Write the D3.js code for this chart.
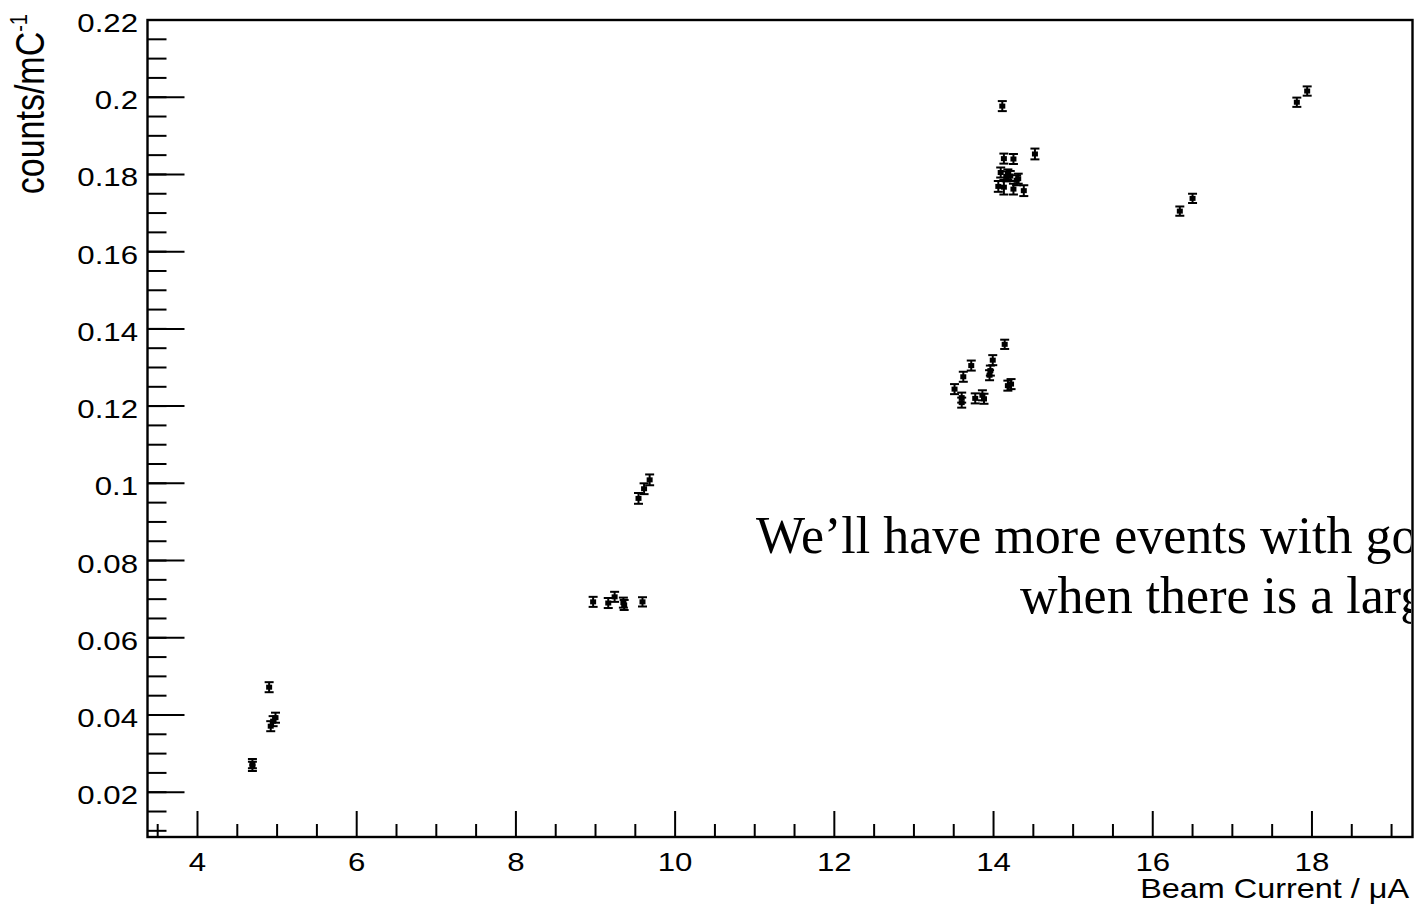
<!DOCTYPE html>
<html lang="en">
<head>
  <meta charset="UTF-8">
  <title>Counts per mC vs Beam Current</title>
  <script src="https://d3js.org/d3.v7.min.js"></script>
  <style type="text/css">
    body {
      margin: 0;
      background: #fff;
    }
    svg {
      display: block;
    }
    .lab {
      font-family: 'Liberation Sans', Arial, Helvetica, sans-serif;
      fill: #000;
    }
    .note {
      font-family: 'Liberation Serif', 'Times New Roman', serif;
      font-size: 52px;
      fill: #000;
    }
  </style>
</head>
<body>
<div id="chart"></div>
<script>
  // beam current (uA), rate (counts/mC) and its error
  var xVals = [4.69, 4.69, 4.90, 4.92, 4.95, 4.98,
    8.97, 9.16, 9.24, 9.35, 9.36, 9.59, 9.54, 9.61, 9.68,
    13.51, 13.60, 13.60, 13.62, 13.72, 13.77, 13.86, 13.88, 13.95, 13.96, 13.99, 14.14, 14.18, 14.22,
    14.11, 14.13, 14.25, 14.52, 14.09, 14.16, 14.21, 14.31, 14.06, 14.13, 14.25, 14.38, 14.18, 14.29,
    16.34, 16.50, 17.81, 17.94];
  var yVals = [0.0274, 0.0267, 0.0472, 0.0371, 0.0384, 0.0393,
    0.0693, 0.0690, 0.0706, 0.0691, 0.0685, 0.0693, 0.0961, 0.0986, 0.1009,
    0.1244, 0.1222, 0.1209, 0.1276, 0.1305, 0.1220, 0.1228, 0.1219, 0.1280, 0.1292, 0.1319, 0.1360, 0.1253, 0.1257,
    0.1977, 0.1841, 0.1840, 0.1853, 0.1805, 0.1795, 0.1796, 0.1789, 0.1769, 0.1767, 0.1762, 0.1758, 0.1800, 0.1785,
    0.1705, 0.1738, 0.1987, 0.2016];
  var yErrs = [0.0012, 0.0012, 0.0013, 0.0013, 0.0013, 0.0013,
    0.0013, 0.0013, 0.0013, 0.0013, 0.0013, 0.0012, 0.0014, 0.0014, 0.0014,
    0.0013, 0.0013, 0.0013, 0.0013, 0.0013, 0.0013, 0.0013, 0.0013, 0.0013, 0.0013, 0.0013, 0.0012, 0.0013, 0.0013,
    0.0013, 0.0013, 0.0013, 0.0014, 0.0013, 0.0013, 0.0013, 0.0013, 0.0014, 0.0019, 0.0014, 0.0014, 0.0013, 0.0013,
    0.0012, 0.0012, 0.0012, 0.0012];

  var xTicks = [4, 6, 8, 10, 12, 14, 16, 18];
  var xTickLabels = ['4', '6', '8', '10', '12', '14', '16', '18'];
  var yTicks = [0.02, 0.04, 0.06, 0.08, 0.1, 0.12, 0.14, 0.16, 0.18, 0.2, 0.22];
  var yTickLabels = ['0.02', '0.04', '0.06', '0.08', '0.1', '0.12', '0.14', '0.16', '0.18', '0.2', '0.22'];
  var noteLines = ['We\u2019ll have more events with good', 'when there is a larger'];

  var WIDTH = 1414,
    HEIGHT = 910,
    LEFT = 147.5, RIGHT = 1412.5, TOP = 20, BOTTOM = 837,
    SX = 1.2; // the plot is stretched sideways

  var svg = d3.select('#chart').append('svg')
    .attr('width', WIDTH)
    .attr('height', HEIGHT);

  var xScale = d3.scaleLinear()
    .domain([3.372, 19.263])
    .range([LEFT, RIGHT]);
  var yScale = d3.scaleLinear()
    .domain([0.0084, 0.22])
    .range([BOTTOM, TOP]);

  // minor ticks every 0.5 and 0.005
  var xMinor = d3.range(7, 39).map(function (d) { return d / 2; });
  var yMinor = d3.range(2, 45).map(function (d) { return d / 200; });

  var axes = svg.append('g')
    .attr('stroke', '#000');

  axes.selectAll('line.xminor')
    .data(xMinor.filter(function (d) { return d % 2 !== 0; }))
    .enter().append('line')
    .attr('x1', function (d) { return xScale(d); })
    .attr('x2', function (d) { return xScale(d); })
    .attr('y1', BOTTOM)
    .attr('y2', BOTTOM - 13)
    .attr('stroke-width', 2);

  axes.selectAll('line.xmajor')
    .data(xTicks)
    .enter().append('line')
    .attr('x1', function (d) { return xScale(d); })
    .attr('x2', function (d) { return xScale(d); })
    .attr('y1', BOTTOM)
    .attr('y2', BOTTOM - 26)
    .attr('stroke-width', 2);

  axes.selectAll('line.yminor')
    .data(yMinor)
    .enter().append('line')
    .attr('x1', LEFT)
    .attr('x2', LEFT + 19)
    .attr('y1', function (d) { return yScale(d); })
    .attr('y2', function (d) { return yScale(d); })
    .attr('stroke-width', 2);

  axes.selectAll('line.ymajor')
    .data(yTicks)
    .enter().append('line')
    .attr('x1', LEFT)
    .attr('x2', LEFT + 37)
    .attr('y1', function (d) { return yScale(d); })
    .attr('y2', function (d) { return yScale(d); })
    .attr('stroke-width', 2);

  // frame
  axes.append('rect')
    .attr('x', LEFT)
    .attr('y', TOP)
    .attr('width', RIGHT - LEFT)
    .attr('height', BOTTOM - TOP)
    .attr('fill', 'none')
    .attr('stroke-width', 2.4);

  // tick labels
  svg.selectAll('text.ytick')
    .data(yTicks)
    .enter().append('text')
    .attr('class', 'lab')
    .attr('text-anchor', 'end')
    .style('font-size', '26px')
    .attr('transform', function (d) {
      return 'translate(138,' + (yScale(d) + 12) + ') scale(' + SX + ',1)';
    })
    .text(function (d, i) { return yTickLabels[i]; });

  svg.selectAll('text.xtick')
    .data(xTicks)
    .enter().append('text')
    .attr('class', 'lab')
    .attr('text-anchor', 'middle')
    .style('font-size', '26px')
    .attr('transform', function (d) {
      return 'translate(' + xScale(d) + ',871) scale(' + SX + ',1)';
    })
    .text(function (d, i) { return xTickLabels[i]; });

  // axis titles
  svg.append('text')
    .attr('class', 'lab')
    .attr('text-anchor', 'end')
    .style('font-size', '27px')
    .attr('transform', 'translate(1409,898) scale(' + SX + ',1)')
    .text('Beam Current / \u03bcA');

  var yTitle = svg.append('text')
    .attr('class', 'lab')
    .attr('text-anchor', 'end')
    .style('font-size', '34px')
    .attr('transform', 'translate(44,14) scale(1.2,1) rotate(-90)');
  yTitle.append('tspan').text('counts/mC');
  yTitle.append('tspan')
    .attr('dy', -14)
    .style('font-size', '20px')
    .text('-1');

  // data points with error bars
  var pts = svg.append('g')
    .selectAll('g')
    .data(xVals.map(function (x, i) { return {x: x, y: yVals[i], e: yErrs[i]}; }))
    .enter().append('g')
    .attr('transform', function (d) {
      return 'translate(' + xScale(d.x) + ',' + yScale(d.y) + ')';
    });

  pts.append('line')
    .attr('x1', 0).attr('x2', 0)
    .attr('y1', function (d) { return yScale(d.y + d.e) - yScale(d.y); })
    .attr('y2', function (d) { return yScale(d.y - d.e) - yScale(d.y); })
    .attr('stroke', '#000')
    .attr('stroke-width', 2);
  pts.selectAll('line.cap')
    .data(function (d) {
      return [yScale(d.y + d.e) - yScale(d.y), yScale(d.y - d.e) - yScale(d.y)];
    })
    .enter().append('line')
    .attr('x1', -4.5).attr('x2', 4.5)
    .attr('y1', function (d) { return d; })
    .attr('y2', function (d) { return d; })
    .attr('stroke', '#000')
    .attr('stroke-width', 2);
  pts.append('rect')
    .attr('x', -3).attr('y', -2.5)
    .attr('width', 6).attr('height', 5)
    .attr('fill', '#000');

  // slide text laid over the plot, cut at the frame as in the original
  svg.append('clipPath')
    .attr('id', 'noteClip')
    .append('rect')
    .attr('x', 0).attr('y', 0)
    .attr('width', RIGHT - 1.5)
    .attr('height', HEIGHT);

  svg.append('g')
    .attr('clip-path', 'url(#noteClip)')
    .selectAll('text')
    .data(noteLines)
    .enter().append('text')
    .attr('class', 'note')
    .attr('x', function (d, i) { return i === 0 ? 756 : 1020; })
    .attr('y', function (d, i) { return 553 + i * 60; })
    .text(function (d) { return d; });
</script>
</body>
</html>
